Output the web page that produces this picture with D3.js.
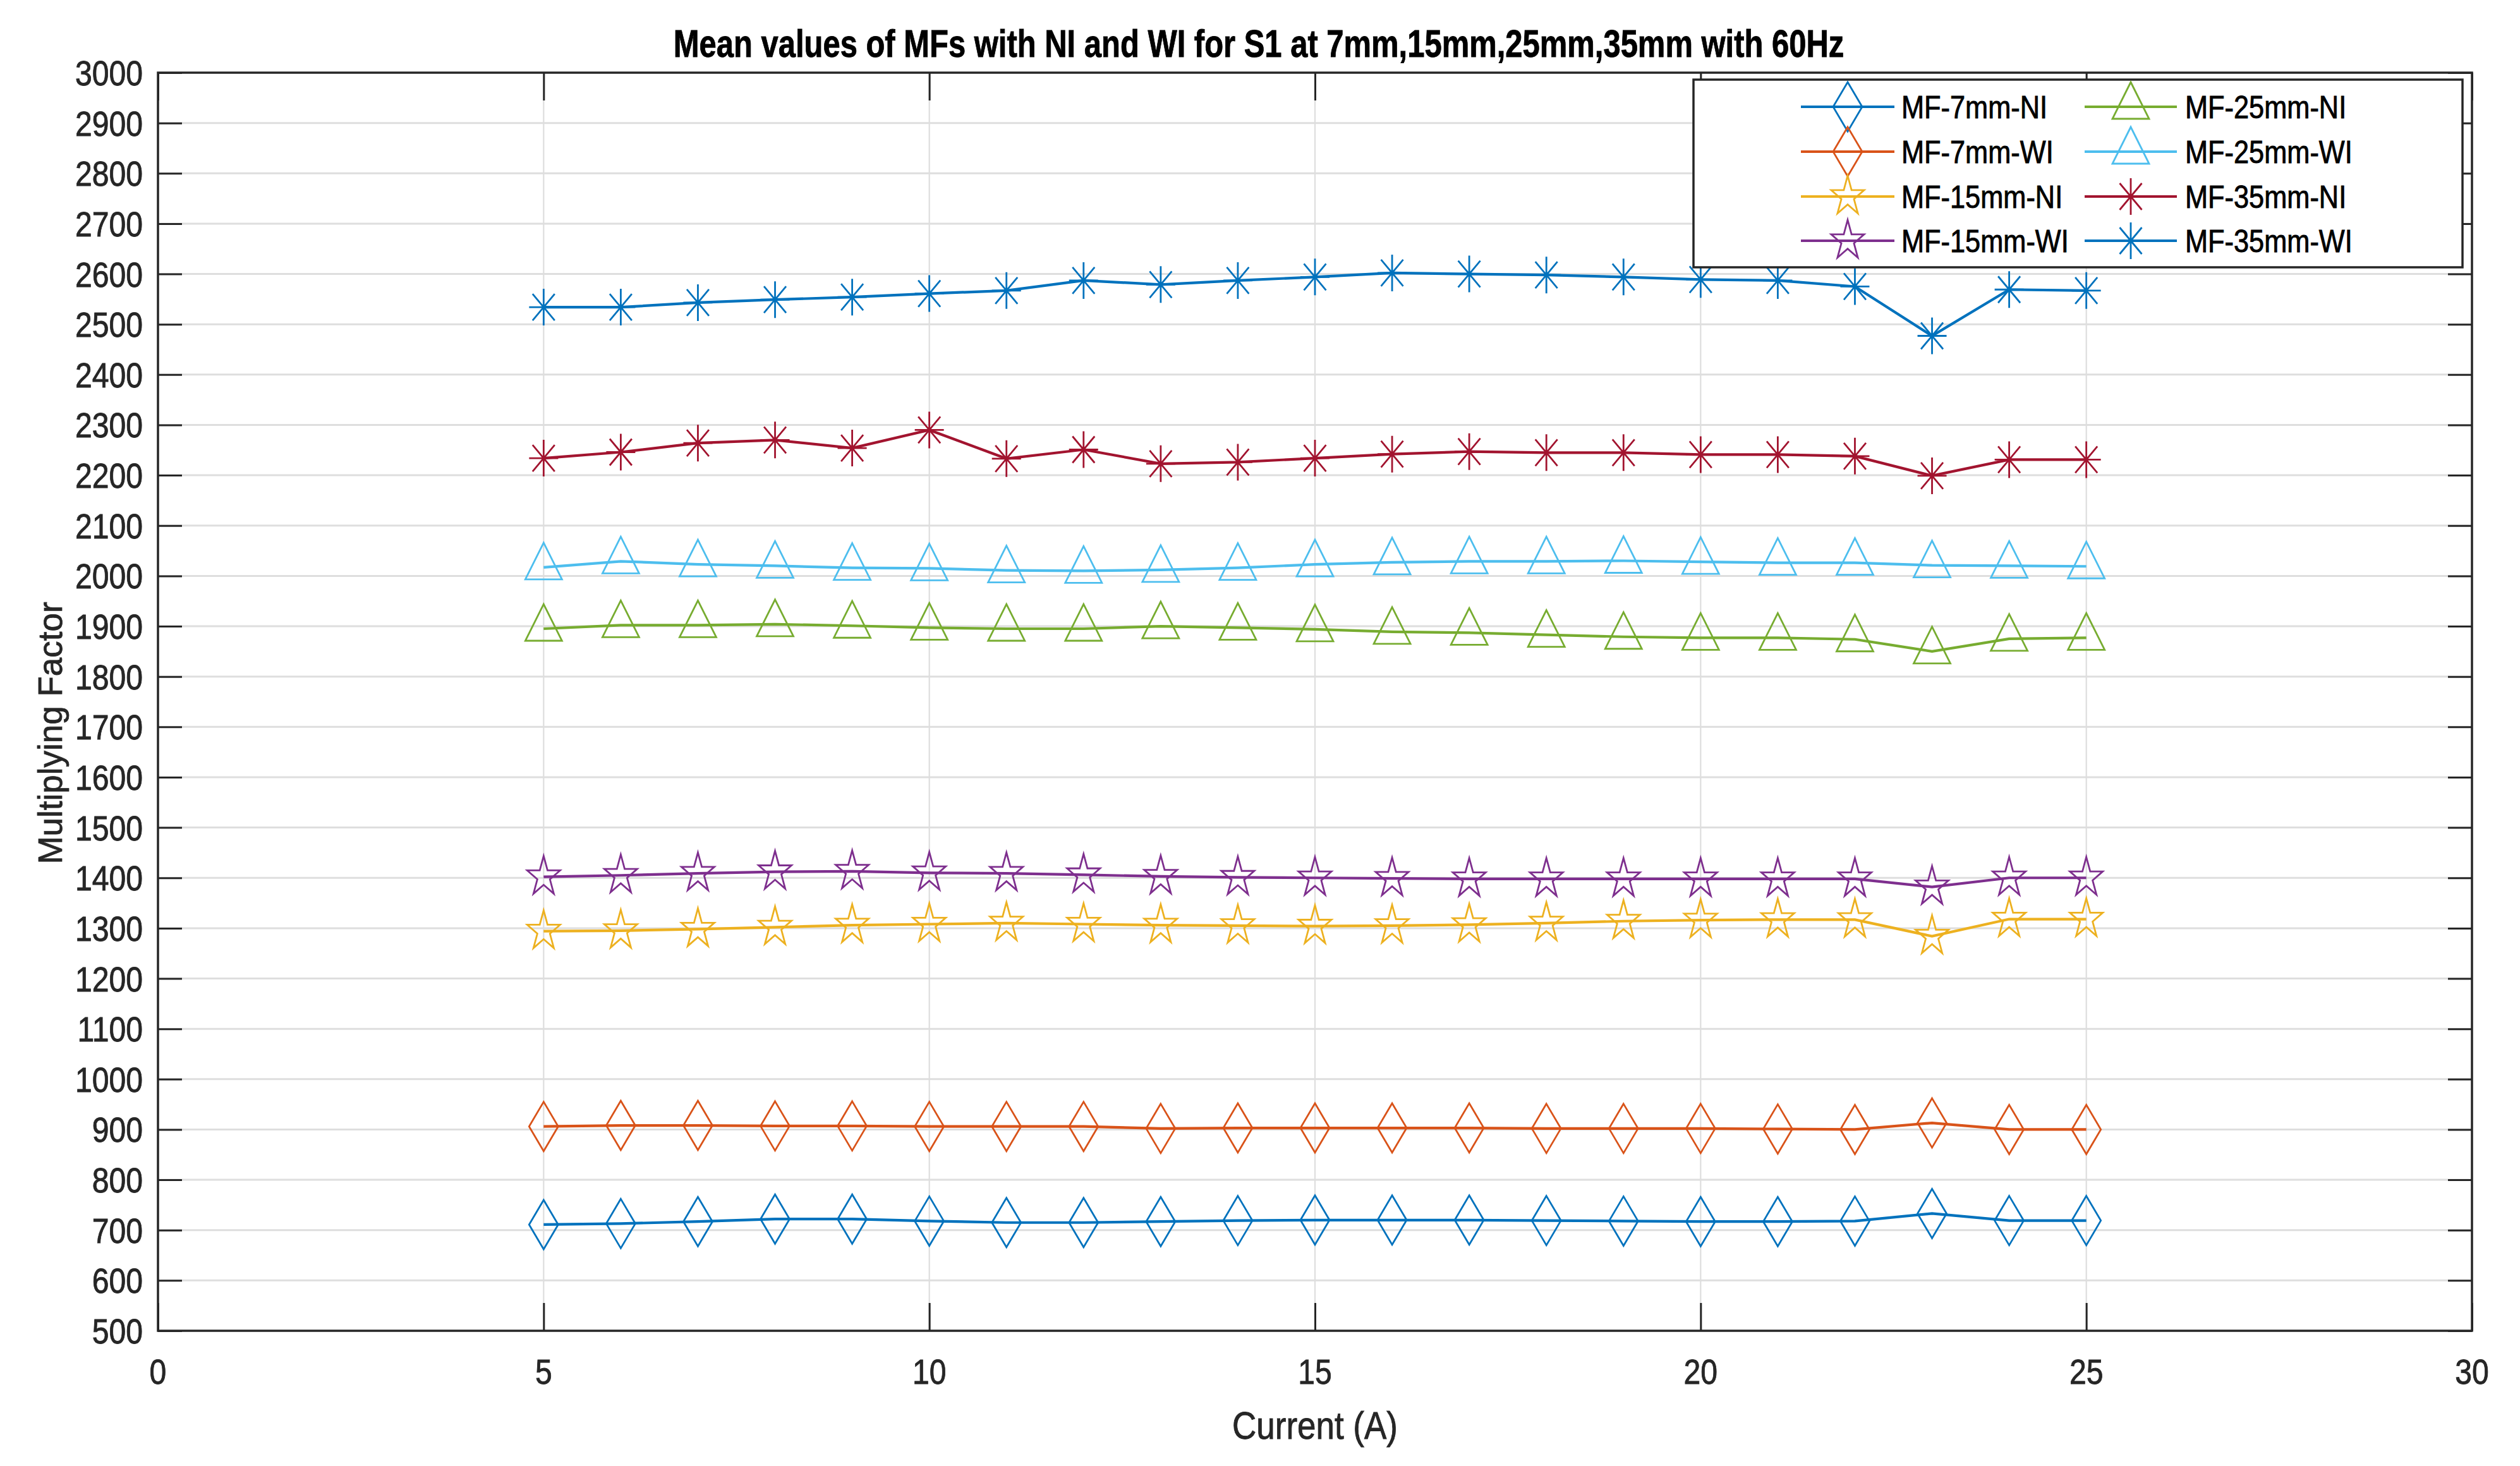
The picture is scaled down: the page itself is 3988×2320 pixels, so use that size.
<!DOCTYPE html>
<html>
<head>
<meta charset="utf-8">
<script src="https://cdn.jsdelivr.net/npm/d3@7"></script>
<style>
  body { margin: 0; background: #fff; }
  svg { display: block; }
  text { font-family: "Liberation Sans", Arial, sans-serif; }
</style>
</head>
<body>
<svg id="svg" width="3988" height="2320"></svg>
<script>
// data
const current = [5, 6, 7, 8, 9, 10, 11, 12, 13, 14, 15, 16, 17, 18, 19, 20, 21, 22, 23, 24, 25]
const mf7NI = [711, 713, 717, 722, 722, 718, 715, 715, 717, 719, 720, 720, 720, 719, 718, 717, 717, 718, 733, 719, 719]
const mf7WI = [906, 908, 908, 907, 907, 906, 906, 906, 902, 903, 903, 903, 903, 902, 902, 902, 901, 900, 913, 900, 900]
const mf15NI = [1294, 1295, 1298, 1302, 1306, 1308, 1310, 1308, 1306, 1305, 1304, 1305, 1307, 1310, 1314, 1316, 1317, 1317, 1284, 1318, 1318]
const mf15WI = [1402, 1405, 1409, 1412, 1413, 1410, 1409, 1406, 1403, 1401, 1400, 1399, 1398, 1398, 1398, 1398, 1398, 1398, 1382, 1400, 1400]
const mf25NI = [1895, 1902, 1902, 1904, 1901, 1897, 1895, 1895, 1900, 1897, 1894, 1889, 1887, 1883, 1879, 1877, 1877, 1874, 1850, 1875, 1877]
const mf25WI = [2017, 2029, 2023, 2020, 2016, 2015, 2011, 2010, 2012, 2016, 2023, 2027, 2029, 2029, 2030, 2028, 2026, 2026, 2021, 2020, 2019]
const mf35NI = [2234, 2246, 2264, 2270, 2254, 2290, 2233, 2251, 2223, 2226, 2234, 2242, 2247, 2245, 2245, 2241, 2241, 2238, 2199, 2231, 2231]
const mf35WI = [2534, 2534, 2543, 2549, 2554, 2561, 2567, 2587, 2579, 2587, 2594, 2602, 2600, 2598, 2594, 2589, 2587, 2575, 2477, 2569, 2567]

const seriesNames = ['MF-7mm-NI', 'MF-7mm-WI', 'MF-15mm-NI', 'MF-15mm-WI', 'MF-25mm-NI', 'MF-25mm-WI', 'MF-35mm-NI', 'MF-35mm-WI']
const seriesValues = [mf7NI, mf7WI, mf15NI, mf15WI, mf25NI, mf25WI, mf35NI, mf35WI]
const seriesColors = ['#0072BD', '#D95319', '#EDB120', '#7E2F8E', '#77AC30', '#4DBEEE', '#A2142F', '#0072BD']
const seriesMarkers = ['diamond', 'diamond', 'star', 'star', 'triangle', 'triangle', 'asterisk', 'asterisk']

const xTicks = [0, 5, 10, 15, 20, 25, 30]
const yTicks = d3.range(500, 3001, 100)

const titleText = 'Mean values of MFs with NI and WI for S1 at 7mm,15mm,25mm,35mm with 60Hz'
const xLabel = 'Current (A)'
const yLabel = 'Multiplying Factor'

// the picture is squeezed a bit horizontally
const squeeze = 0.86
const axisColor = '#262626'

const drawChart = () => {
    const svg = d3.select('#svg')
    svg.selectAll('*').remove()

    const margin = { top: 115, right: 3988 - 3912, bottom: 2320 - 2106, left: 250 }
    const width = 3988
    const height = 2320

    const xScale = d3.scaleLinear().domain([0, 30]).range([margin.left, width - margin.right])
    const yScale = d3.scaleLinear().domain([500, 3000]).range([height - margin.bottom, margin.top])

    const x0 = xScale.range()[0], x1 = xScale.range()[1]
    const y0 = yScale.range()[1], y1 = yScale.range()[0]

    // grid
    const grid = svg.append('g').attr('class', 'grid')
    grid.selectAll('.gy')
        .data(yTicks.filter(d => d > 500 && d < 3000))
        .join('line')
        .attr('x1', x0).attr('x2', x1)
        .attr('y1', d => yScale(d)).attr('y2', d => yScale(d))
        .attr('stroke', '#dedede').attr('stroke-width', 3)
    grid.selectAll('.gx')
        .data(xTicks.filter(d => d > 0 && d < 30))
        .join('line')
        .attr('y1', y0).attr('y2', y1)
        .attr('x1', d => xScale(d)).attr('x2', d => xScale(d))
        .attr('stroke', '#dedede').attr('stroke-width', 2.2)

    // axes (box with mirrored inner ticks)
    const tickY = 38, tickX = 44
    const axes = svg.append('g').attr('class', 'axes')
    axes.append('g')
        .attr('transform', `translate(${x0},0)`)
        .call(d3.axisLeft(yScale).tickValues(yTicks).tickSize(-tickY).tickFormat(''))
    axes.append('g')
        .attr('transform', `translate(${x1},0)`)
        .call(d3.axisRight(yScale).tickValues(yTicks).tickSize(-tickY).tickFormat(''))
    axes.append('g')
        .attr('transform', `translate(0,${y1})`)
        .call(d3.axisBottom(xScale).tickValues(xTicks).tickSize(-tickX).tickFormat(''))
    axes.append('g')
        .attr('transform', `translate(0,${y0})`)
        .call(d3.axisTop(xScale).tickValues(xTicks).tickSize(-tickX).tickFormat(''))
    axes.selectAll('.domain').remove()
    axes.selectAll('.tick line').attr('stroke', axisColor).attr('stroke-width', 3)
    axes.append('rect')
        .attr('x', x0).attr('y', y0)
        .attr('width', x1 - x0).attr('height', y1 - y0)
        .attr('fill', 'none').attr('stroke', axisColor).attr('stroke-width', 3.5)

    const addText = (g, txt, x, y, size, anchor, weight, color, sx) =>
        g.append('text')
            .attr('transform', `translate(${x},${y}) scale(${sx || squeeze},1)`)
            .attr('text-anchor', anchor)
            .attr('font-size', size)
            .attr('font-weight', weight || 'normal')
            .attr('fill', color || axisColor)
            .attr('stroke', color || axisColor)
            .attr('stroke-width', 0.9)
            .text(txt)

    const labels = svg.append('g').attr('class', 'labels')
    yTicks.forEach(d => addText(labels, d, x0 - 24, yScale(d) + 20, 56, 'end'))
    xTicks.forEach(d => addText(labels, d, xScale(d), 2190, 56, 'middle'))
    addText(labels, xLabel, (x0 + x1) / 2, 2277, 61.6, 'middle')
    addText(labels, titleText, 1992, 90, 61.6, 'middle', 'bold', '#000', 0.795)
    labels.append('text')
        .attr('transform', `translate(98,1160) rotate(-90) scale(${squeeze},${squeeze})`)
        .attr('text-anchor', 'middle')
        .attr('font-size', 61.6)
        .attr('fill', axisColor)
        .attr('stroke', axisColor)
        .attr('stroke-width', 0.9)
        .text(yLabel)

    // marker shapes, pixel offsets around the point
    const star = () => {
        const R = 33, r = R * 0.382, pts = []
        for (let i = 0; i < 10; i++) {
            const a = -Math.PI / 2 + i * Math.PI / 5
            const rad = i % 2 ? r : R
            pts.push([rad * Math.cos(a) * 0.83, rad * Math.sin(a)])
        }
        return 'M' + pts.map(p => p.join(',')).join('L') + 'Z'
    }
    const markerPath = {
        diamond: 'M0,-39L23,0L0,39L-23,0Z',
        triangle: 'M0,-39L29,19L-29,19Z',
        star: star(),
        asterisk: 'M0,-29V29M-23,0H23M-17.5,-21L17.5,21M-17.5,21L17.5,-21',
    }

    const line = d3.line()
        .x((d, i) => xScale(current[i]))
        .y(d => yScale(d))

    const plot = svg.append('g').attr('class', 'series')
    seriesValues.forEach((vals, k) => {
        const g = plot.append('g')
        g.append('path')
            .attr('d', line(vals))
            .attr('fill', 'none')
            .attr('stroke', seriesColors[k])
            .attr('stroke-width', 4.2)
        g.selectAll('.mk')
            .data(vals)
            .join('path')
            .attr('transform', (d, i) => `translate(${xScale(current[i])},${yScale(d)})`)
            .attr('d', markerPath[seriesMarkers[k]])
            .attr('fill', 'none')
            .attr('stroke', seriesColors[k])
            .attr('stroke-width', 2.8)
    })

    // legend
    const legend = svg.append('g').attr('class', 'legend')
    legend.append('rect')
        .attr('x', 2680).attr('y', 126)
        .attr('width', 3897 - 2680).attr('height', 423 - 126)
        .attr('fill', '#fff').attr('stroke', axisColor).attr('stroke-width', 3.5)
    const rows = [169, 240, 311, 381]
    const cols = [{ l: 2850, r: 2998, t: 3009 }, { l: 3299, r: 3445, t: 3458 }]
    seriesNames.forEach((name, k) => {
        const c = cols[Math.floor(k / 4)]
        const y = rows[k % 4]
        legend.append('line')
            .attr('x1', c.l).attr('x2', c.r).attr('y1', y).attr('y2', y)
            .attr('stroke', seriesColors[k]).attr('stroke-width', 4)
        legend.append('path')
            .attr('transform', `translate(${(c.l + c.r) / 2},${y})`)
            .attr('d', markerPath[seriesMarkers[k]])
            .attr('fill', 'none')
            .attr('stroke', seriesColors[k])
            .attr('stroke-width', 2.8)
        addText(legend, name, c.t, y + 18, 50.4, 'start', 'normal', '#000')
    })
}

drawChart()
</script>
</body>
</html>
